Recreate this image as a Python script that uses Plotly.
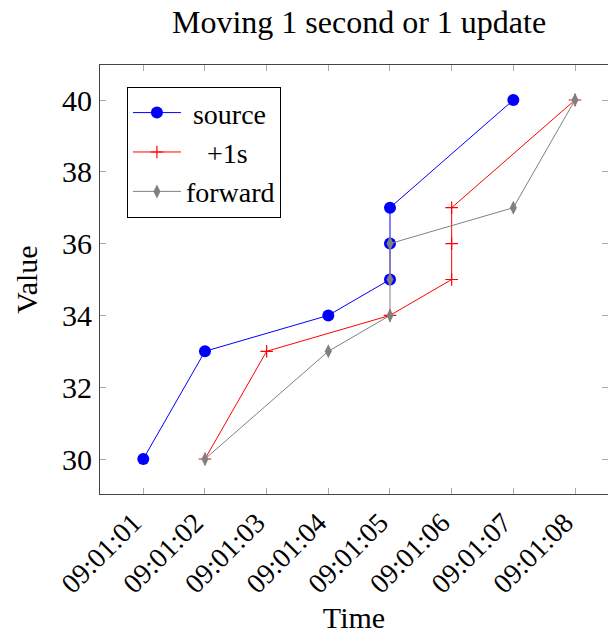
import plotly.graph_objects as go

BASE_DATE = "2024-01-01 "

source_times = ["09:01:01", "09:01:02", "09:01:04", "09:01:05", "09:01:05", "09:01:05", "09:01:07"]
source_values = [30, 33, 34, 35, 36, 37, 40]

plus1s_times = ["09:01:02", "09:01:03", "09:01:05", "09:01:06", "09:01:06", "09:01:06", "09:01:08"]
plus1s_values = [30, 33, 34, 35, 36, 37, 40]

forward_times = ["09:01:02", "09:01:04", "09:01:05", "09:01:05", "09:01:05", "09:01:07", "09:01:08"]
forward_values = [30, 33, 34, 35, 36, 37, 40]

series_names = ["source", "+1s", "forward"]
legend_labels = ["\u00a0source", "\u00a0\u00a0\u00a0+1s", "forward"]

x_range = ["09:01:00.298", "09:01:08.535"]
y_range = [29.025, 40.975]
y_ticks = [30, 32, 34, 36, 38, 40]

FONT = "Liberation Serif"


def to_dt(ts):
    return [BASE_DATE + t for t in ts]


fig = go.Figure()
fig.add_trace(go.Scatter(
    x=to_dt(source_times), y=source_values, name=legend_labels[0],
    mode="lines+markers",
    line=dict(color="#0000ff", width=1),
    marker=dict(symbol="circle", size=12, color="#0000ff"),
))
fig.add_trace(go.Scatter(
    x=to_dt(plus1s_times), y=plus1s_values, name=legend_labels[1],
    mode="lines+markers",
    line=dict(color="#ff0000", width=1),
    marker=dict(symbol="cross-thin", size=9, color="#ff0000",
                line=dict(color="#ff0000", width=1.2)),
))
fig.add_trace(go.Scatter(
    x=to_dt(forward_times), y=forward_values, name=legend_labels[2],
    mode="lines+markers",
    line=dict(color="#808080", width=1),
    marker=dict(symbol="diamond-tall", size=10, color="#808080"),
))

fig.update_layout(
    width=608, height=634,
    margin=dict(l=100, r=0, t=65, b=140),
    paper_bgcolor="white", plot_bgcolor="white",
    font=dict(family=FONT, size=30, color="black"),
    title=dict(text="Moving 1 second or 1 update", xref="paper", x=0.51,
               xanchor="center", y=0.966, yanchor="middle",
               font=dict(size=32, family=FONT)),
    showlegend=True,
    legend=dict(x=0.053, y=0.949, xanchor="left", yanchor="top",
                bgcolor="white", bordercolor="black", borderwidth=1,
                itemwidth=48, font=dict(size=28, family=FONT),
                tracegroupgap=0),
)

fig.update_xaxes(
    type="date", range=[BASE_DATE + x_range[0], BASE_DATE + x_range[1]],
    tick0=BASE_DATE + "09:01:01", dtick=1000, tickformat="%H:%M:%S",
    tickangle=-45, tickfont=dict(size=28, family=FONT),
    ticklabelshift=-10,
    ticks="inside", ticklen=6, tickcolor="#aaaaaa", tickwidth=1,
    showline=True, linecolor="#444444", linewidth=1, mirror="ticks",
    showgrid=False, zeroline=False, automargin=False,
    title=dict(text="Time", font=dict(size=30, family=FONT), standoff=14),
)
fig.update_yaxes(
    range=y_range, tickvals=y_ticks, tickfont=dict(size=30, family=FONT),
    ticks="inside", ticklen=6, tickcolor="#aaaaaa", tickwidth=1,
    ticklabelstandoff=1,
    showline=True, linecolor="#444444", linewidth=1, mirror="ticks",
    showgrid=False, zeroline=False, automargin=False,
    title=dict(text="Value", font=dict(size=30, family=FONT), standoff=15),
)

fig.write_html(
    "out.html",
    config={"displayModeBar": False},
    post_script="document.body.style.margin='0';document.body.style.overflow='hidden';",
)
